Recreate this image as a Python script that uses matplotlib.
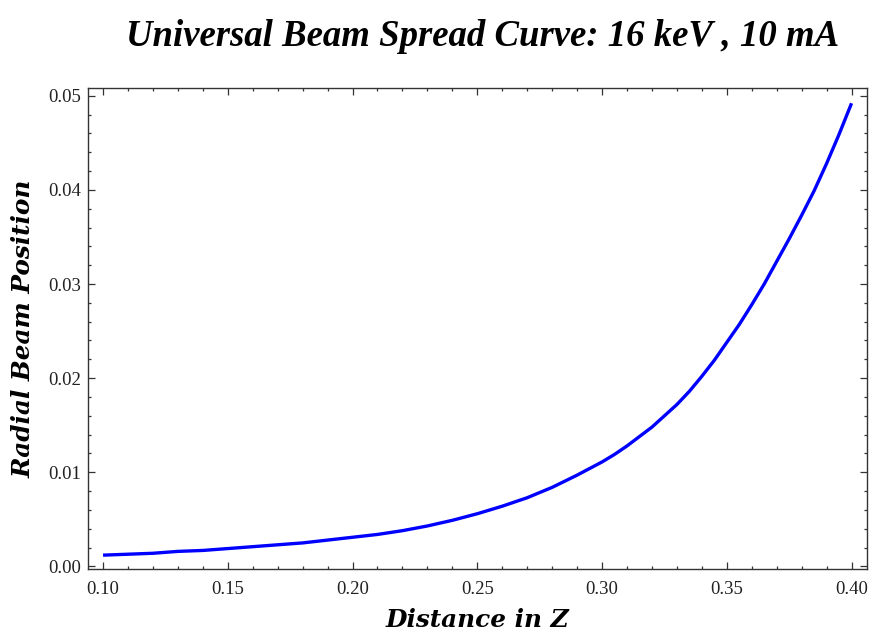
"""
Universal beam spread curve for a 16 keV, 10 mA beam:
radial beam position against distance along Z.
"""

import numpy as np
import matplotlib.pyplot as plt
from matplotlib.ticker import MultipleLocator

# ---- Data ----
z = np.array([0.10, 0.11, 0.12, 0.13, 0.14, 0.15, 0.16, 0.17, 0.18, 0.19,
              0.20, 0.21, 0.22, 0.23, 0.24, 0.25, 0.26, 0.27, 0.28, 0.29,
              0.30, 0.305, 0.31, 0.315, 0.32, 0.325, 0.33, 0.335, 0.34,
              0.345, 0.35, 0.355, 0.36, 0.365, 0.37, 0.375, 0.38, 0.385,
              0.39, 0.395, 0.40])
r = np.array([0.0012, 0.0013, 0.0014, 0.0016, 0.0017, 0.0019, 0.0021,
              0.0023, 0.0025, 0.0028, 0.0031, 0.0034, 0.0038, 0.0043,
              0.0049, 0.0056, 0.0064, 0.0073, 0.0084, 0.0097, 0.0111,
              0.0119, 0.0128, 0.0138, 0.0148, 0.0160, 0.0172, 0.0186,
              0.0202, 0.0219, 0.0238, 0.0257, 0.0278, 0.0300, 0.0324,
              0.0348, 0.0373, 0.0399, 0.0428, 0.0459, 0.0492])

x_ticks = [0.10, 0.15, 0.20, 0.25, 0.30, 0.35, 0.40]
y_ticks = [0.00, 0.01, 0.02, 0.03, 0.04, 0.05]

# ---- Plot ----
fig = plt.figure(figsize=(8.72, 6.39), dpi=100)
ax = fig.add_axes([0.101, 0.110, 0.893, 0.752])

ax.plot(z, r, color="#0000ff", lw=2.4, solid_capstyle="butt",
        solid_joinstyle="round")

ax.set_xlim(0.094, 0.4061)
ax.set_ylim(-0.00024, 0.0508)
ax.set_xticks(x_ticks)
ax.set_yticks(y_ticks)
ax.set_xticklabels([f"{t:.2f}" for t in x_ticks])
ax.set_yticklabels([f"{t:.2f}" for t in y_ticks])
ax.xaxis.set_minor_locator(MultipleLocator(0.01))
ax.yaxis.set_minor_locator(MultipleLocator(0.002))

ax.tick_params(which="both", direction="in", top=True, right=True,
               color="#333333", width=0.9)
ax.tick_params(which="major", length=5)
ax.tick_params(which="minor", length=2.5)
ax.tick_params(axis="x", pad=9)
ax.tick_params(axis="y", pad=5)
for lbl in ax.get_xticklabels() + ax.get_yticklabels():
    lbl.set_family("Liberation Serif")
    lbl.set_fontsize(13.5)
    lbl.set_color("#222222")

for sp in ax.spines.values():
    sp.set_color("#333333")
    sp.set_linewidth(1.0)

label_font = dict(family="DejaVu Serif", weight="bold", style="italic",
                  size=17.8)
ax.set_xlabel("Distance in Z", labelpad=7, **label_font)
ax.set_ylabel("Radial Beam Position", labelpad=9, **label_font)

fig.text(0.553, 0.943, "Universal Beam Spread Curve: 16 keV , 10 mA",
         ha="center", va="center", family="Liberation Serif",
         weight="bold", style="italic", size=26.5)

fig.savefig("out.png", dpi=100)
